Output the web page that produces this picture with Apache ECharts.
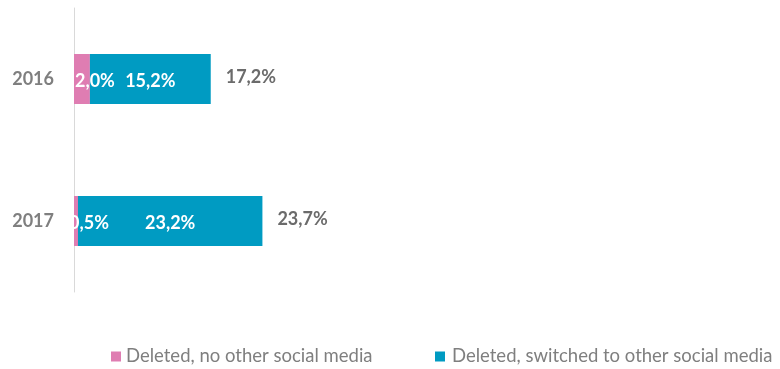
<!DOCTYPE html>
<html>
<head>
<meta charset="utf-8">
<script src="https://cdn.jsdelivr.net/npm/echarts@6/dist/echarts.min.js"></script>
<style>
    html, body { margin: 0; padding: 0; background: #fff; }
    #chart { width: 780px; height: 369px; }
</style>
</head>
<body>
<div id="chart"></div>
<script>
    var years = ['2016', '2017'];
    var noOther = [2.0, 0.5];
    var switched = [15.2, 23.2];
    var totals = [17.2, 23.7];
    var seriesNames = ['Deleted, no other social media', 'Deleted, switched to other social media'];

    var FONT = 'Lato, "Open Sans", sans-serif';

    // format like 17,2%
    function pct(v) {
        return v.toFixed(1).replace('.', ',') + '%';
    }

    var chart = echarts.init(document.getElementById('chart'));
    chart.setOption({
        animation: false,
        grid: {
            left: 74,
            right: 70,
            top: 8,
            bottom: 77
        },
        xAxis: {
            type: 'value',
            min: 0,
            max: 80,
            show: false
        },
        yAxis: {
            type: 'category',
            data: years,
            inverse: true,
            axisLine: { lineStyle: { color: '#d9d9d9', width: 1 } },
            axisTick: { show: false },
            axisLabel: {
                margin: 20,
                color: '#7f7f7f',
                fontFamily: FONT,
                fontWeight: 'bold',
                fontSize: 18
            }
        },
        legend: [{
            data: [seriesNames[0]],
            left: 111,
            top: 347,
            padding: 0,
            itemWidth: 10,
            itemHeight: 10,
            icon: 'rect',
            textStyle: { color: '#7f7f7f', fontFamily: FONT, fontSize: 18.5 }
        }, {
            data: [seriesNames[1]],
            left: 435,
            top: 347,
            padding: 0,
            itemWidth: 10,
            itemHeight: 10,
            icon: 'rect',
            textStyle: { color: '#7f7f7f', fontFamily: FONT, fontSize: 18.5, padding: [0, 0, 0, 2] }
        }],
        series: [{
            name: seriesNames[0],
            type: 'bar',
            stack: 'all',
            barWidth: 50,
            data: noOther,
            itemStyle: { color: '#df7db2' },
            label: {
                show: true,
                position: 'inside',
                offset: [13, 2],
                color: '#fff',
                fontFamily: FONT,
                fontWeight: 'bold',
                fontSize: 18,
                formatter: function (p) { return pct(p.value); }
            }
        }, {
            name: seriesNames[1],
            type: 'bar',
            stack: 'all',
            barWidth: 50,
            data: switched,
            itemStyle: { color: '#009bc2' },
            label: {
                show: true,
                position: 'inside',
                offset: [0, 2],
                color: '#fff',
                fontFamily: FONT,
                fontWeight: 'bold',
                fontSize: 18,
                formatter: function (p) { return pct(p.value); }
            }
        }, {
            name: 'total',
            type: 'bar',
            stack: 'all',
            barWidth: 50,
            data: [0, 0],
            itemStyle: { color: 'transparent' },
            label: {
                show: true,
                position: 'right',
                distance: 15,
                offset: [0, -2],
                color: '#6b6b6b',
                fontFamily: FONT,
                fontWeight: 'bold',
                fontSize: 18,
                formatter: function (p) { return pct(totals[p.dataIndex]); }
            }
        }]
    });
</script>
</body>
</html>
